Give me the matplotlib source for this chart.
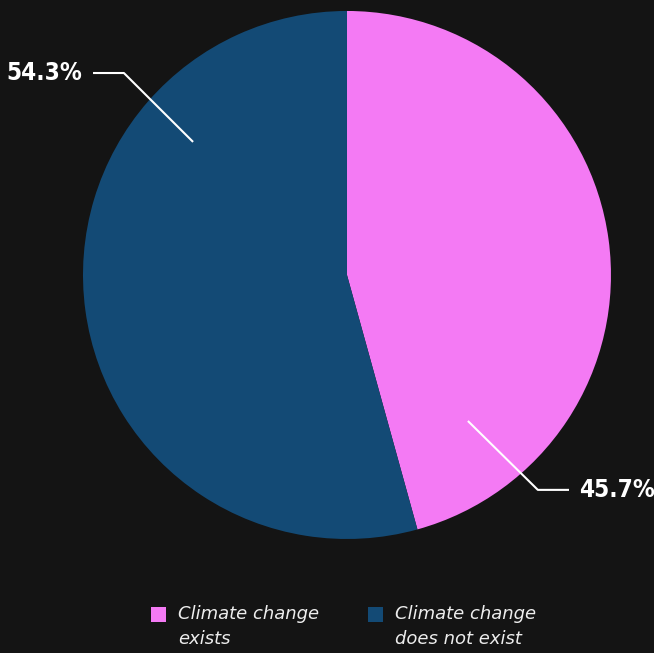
import matplotlib
matplotlib.use("Agg")
import matplotlib.pyplot as plt
from matplotlib.patches import Rectangle

labels = ["Climate change\nexists", "Climate change\ndoes not exist"]
values = [45.7, 54.3]
colors = ["#F47AF4", "#134A75"]

bg = "#141414"

fig = plt.figure(figsize=(6.54, 6.53), dpi=100, facecolor=bg)
ax = fig.add_axes([0.1269, 0.1746, 0.8073, 0.8086])
ax.set_facecolor(bg)

ax.pie(values, colors=colors, startangle=90, counterclock=False, radius=1,
       wedgeprops=dict(linewidth=0))
ax.set_xlim(-1, 1)
ax.set_ylim(-1, 1)
ax.set_aspect("auto")
ax.axis("off")

# leader lines: (start, bend, end) in data units, label side
leaders = [
    [(0.458, -0.553), (0.723, -0.814), (0.841, -0.814), "left"],
    [(-0.583, 0.504), (-0.845, 0.765), (-0.962, 0.765), "right"],
]
for v, (p0, p1, p2, side) in zip(values, leaders):
    ax.plot([p0[0], p1[0], p2[0]], [p0[1], p1[1], p2[1]], color="white",
            lw=1.5, clip_on=False, solid_capstyle="butt")
    dx = 0.04 if side == "left" else -0.04
    ax.text(p2[0] + dx, p2[1], f"{v}%", ha=side, va="center", color="white",
            fontsize=17.5, fontweight="bold", fontstretch="condensed",
            family="DejaVu Sans", clip_on=False)

# legend
W, H = 654, 653
leg_x = [151, 368]
for lab, c, x in zip(labels, colors, leg_x):
    fig.patches.append(Rectangle((x / W, 1 - 622 / H), 15 / W, 15 / H,
                                 transform=fig.transFigure, facecolor=c,
                                 edgecolor="none"))
    fig.text((x + 27) / W, 1 - 605 / H, lab, ha="left", va="top",
             color="#EDEDED", fontsize=13, fontstyle="italic",
             linespacing=1.5)

fig.savefig("out.png", facecolor=bg)
